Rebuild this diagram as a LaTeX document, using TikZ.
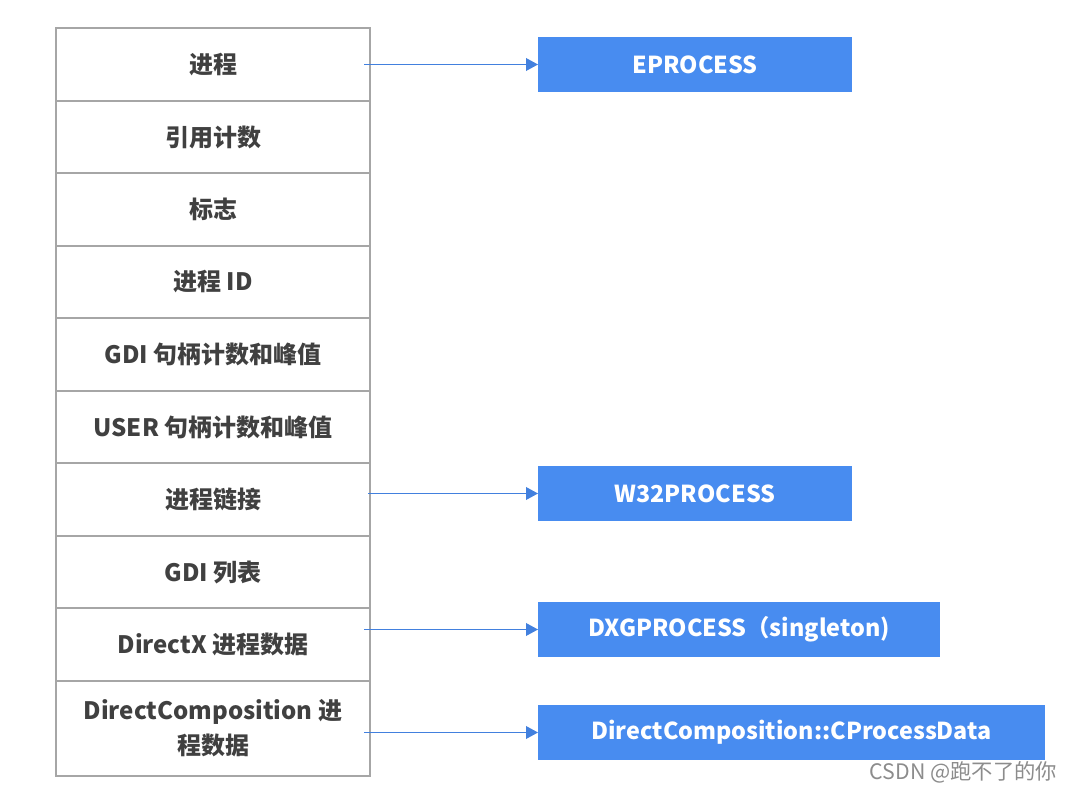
\documentclass[tikz,border=0pt]{standalone}
\usepackage{fontspec}
\setmainfont{Noto Sans CJK SC}
\usepackage{tikz}
\usetikzlibrary{arrows.meta,positioning,calc}
\definecolor{boxgray}{RGB}{166,166,166}
\definecolor{txtgray}{RGB}{64,64,64}
\definecolor{objblue}{RGB}{72,140,240}
\definecolor{linkblue}{RGB}{66,128,222}
\tikzstyle{field}=[draw=boxgray,line width=1.3pt,outer sep=0pt,minimum width=235.5pt,minimum height=54.375pt,inner sep=0pt,align=center,text=txtgray,font=\fontsize{18}{26}\selectfont\bfseries]
\tikzstyle{object}=[fill=objblue,minimum height=41.25pt,inner sep=0pt,outer sep=0pt,text=white,font=\fontsize{17.5}{21}\selectfont\bfseries]
\tikzstyle{link}=[linkblue,line width=1.1pt,-{Triangle[length=9pt,width=9.5pt]}]

\begin{document}
\begin{tikzpicture}[x=0.75pt,y=-0.75pt]
\useasboundingbox (0,0) rectangle (1077,791);
% EPROCESS fields
\node [field] (p1) at (213,64.5) {进程};
\node [field,below=0pt of p1] (p2) {引用计数};
\node [field,below=0pt of p2] (p3) {标志};
\node [field,below=0pt of p3] (p4) {进程 ID};
\node [field,below=0pt of p4] (p5) {GDI 句柄计数和峰值};
\node [field,below=0pt of p5] (p6) {USER 句柄计数和峰值};
\node [field,below=0pt of p6] (p7) {进程链接};
\node [field,below=0pt of p7] (p8) {GDI 列表};
\node [field,below=0pt of p8] (p9) {DirectX 进程数据};
\node [field,below=0pt of p9,minimum height=71.25pt] (p10) {DirectComposition 进\\程数据};
% referenced objects
\node [object,minimum width=235.5pt] (e1) at (695,64.5) {EPROCESS};
\node [object,minimum width=235.5pt] (e2) at (695,493.5) {W32PROCESS};
\node [object,minimum width=301.5pt] (e3) at (739,629.5) {DXGPROCESS（singleton)};
\node [object,minimum width=380.25pt] (e4) at (791.5,732.5) {DirectComposition::CProcessData};
\draw [link,shorten <=-4.5pt] (p1.east |- e1.west) -- (e1.west);
\draw [link,shorten <=-1.5pt] (p7.east |- e2.west) -- (e2.west);
\draw [link,shorten <=-4.5pt] (p9.east |- e3.west) -- (e3.west);
\draw [link,shorten <=-4.5pt] (p10.east |- e4.west) -- (e4.west);
\node [text=black!45,font=\fontsize{16}{18}\selectfont,anchor=east] (mark) at (1062,772) {CSDN @跑不了的你};
\end{tikzpicture}
\end{document}
